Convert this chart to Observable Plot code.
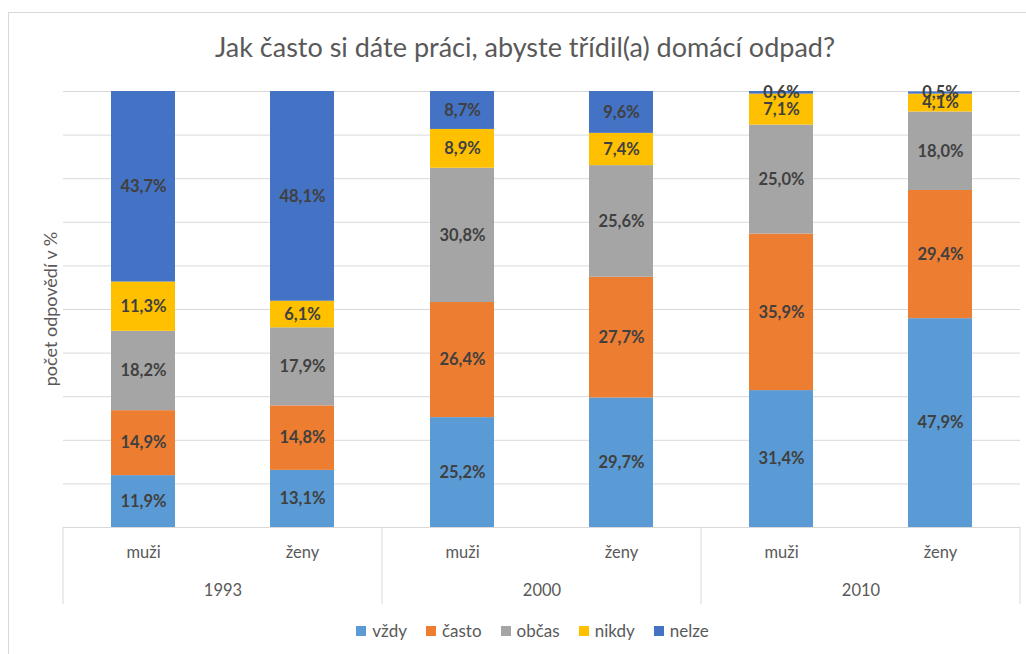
<!DOCTYPE html>
<html>
<head>
<meta charset="utf-8">
<script src="https://cdn.jsdelivr.net/npm/d3@7"></script>
<script src="https://cdn.jsdelivr.net/npm/@observablehq/plot@0.6"></script>
<style>
  html, body { margin: 0; padding: 0; background: #fff; }
  #wrap { position: relative; width: 1026px; height: 654px; overflow: hidden; font-family: Lato, "Liberation Sans", sans-serif; }
  #border { position: absolute; left: 8px; top: 12px; width: 1040px; height: 660px; border: 1px solid #D9D9D9; box-sizing: border-box; }
  #title { position: absolute; left: 0; width: 1050px; top: 30px; text-align: center; font-size: 27px; color: #595959; }
  #chart { position: absolute; left: 0; top: 0; }
  #legend { position: absolute; left: 0; width: 1065px; top: 620px; display: flex; justify-content: center; gap: 19px; font-size: 17px; color: #595959; }
  #legend .item { display: flex; align-items: center; gap: 6px; }
  #legend .sw { width: 10px; height: 10px; display: inline-block; }
</style>
</head>
<body>
<div id="wrap">
  <div id="border"></div>
  <div id="chart"></div>
  <div id="title">Jak často si dáte práci, abyste třídil(a) domácí odpad?</div>
  <div id="legend"></div>
</div>
<script>
const years = ["1993", "2000", "2010"];
const genders = ["muži", "ženy"];
const series = ["vždy", "často", "občas", "nikdy", "nelze"];
const colors = ["#5B9BD5", "#ED7D31", "#A5A5A5", "#FFC000", "#4472C4"];
// order: 1993 muži, 1993 ženy, 2000 muži, 2000 ženy, 2010 muži, 2010 ženy
const vzdy  = [11.9, 13.1, 25.2, 29.7, 31.4, 47.9];
const casto = [14.9, 14.8, 26.4, 27.7, 35.9, 29.4];
const obcas = [18.2, 17.9, 30.8, 25.6, 25.0, 18.0];
const nikdy = [11.3, 6.1, 8.9, 7.4, 7.1, 4.1];
const nelze = [43.7, 48.1, 8.7, 9.6, 0.6, 0.5];
const yTicks = [0, 10, 20, 30, 40, 50, 60, 70, 80, 90, 100];
const yLabel = "počet odpovědí v %";

const seriesValues = [vzdy, casto, obcas, nikdy, nelze];
const rows = [];
years.forEach((yr, yi) => {
  genders.forEach((g, gi) => {
    const idx = yi * 2 + gi;
    series.forEach((s, si) => {
      rows.push({year: yr, gender: g, series: s, value: seriesValues[si][idx]});
    });
  });
});
const fmt = v => v.toFixed(1).replace(".", ",") + "%";

const W = 1026, H = 612;
const plot = Plot.plot({
  width: W,
  height: H,
  marginTop: 91,
  marginBottom: 85,
  marginLeft: 63,
  marginRight: 6,
  style: {fontFamily: "Lato, 'Liberation Sans', sans-serif", fontSize: "16.5px", color: "#595959", background: "transparent"},
  facet: {data: rows, x: "year"},
  fx: {domain: years, padding: 0, axis: "bottom", tickSize: 0, tickPadding: 57, label: null},
  x: {domain: genders, paddingInner: 0.6, paddingOuter: 0.3, axis: "bottom", tickSize: 0, tickPadding: 19, label: null},
  y: {domain: [0, 100], axis: null},
  color: {domain: series, range: colors},
  marks: [
    Plot.ruleY(yTicks, {stroke: "#D9D9D9", strokeWidth: 1}),
    Plot.barY(rows, Plot.stackY({x: "gender", y: "value", fill: "series"})),
    Plot.text(rows, Plot.stackY({x: "gender", y: "value", z: "series", text: d => fmt(d.value), fill: "#404040", fontWeight: "bold", fontSize: 16.5}))
  ]
});
document.getElementById("chart").appendChild(plot);

const svg = d3.select(plot);
const ys = plot.scale("y");
const yScale = d3.scaleLinear().domain(ys.domain).range(ys.range);

// y axis title, centred on the y scale's range
const yMid = (yScale(0) + yScale(100)) / 2;
svg.append("text")
  .attr("transform", `translate(57,${yMid}) rotate(-90)`)
  .attr("text-anchor", "middle")
  .attr("fill", "#595959")
  .style("font-size", "18px")
  .text(yLabel);

// group separators of the category axis, derived from the fx and y scales
const fxs = plot.scale("fx");
const band = d3.scaleBand().domain(fxs.domain).range(fxs.range).paddingInner(fxs.paddingInner || 0).paddingOuter(fxs.paddingOuter || 0);
const edges = fxs.domain.map(d => band(d)).concat([band(fxs.domain[fxs.domain.length - 1]) + band.bandwidth()]);
svg.append("g").selectAll("line").data(edges).join("line")
  .attr("x1", d => d).attr("x2", d => d)
  .attr("y1", yScale(0)).attr("y2", H - 8)
  .attr("stroke", "#D9D9D9").attr("stroke-width", 1);

// legend
const legend = d3.select("#legend");
series.forEach((s, i) => {
  const it = legend.append("div").attr("class", "item");
  it.append("span").attr("class", "sw").style("background", colors[i]);
  it.append("span").text(s);
});
</script>
</body>
</html>
